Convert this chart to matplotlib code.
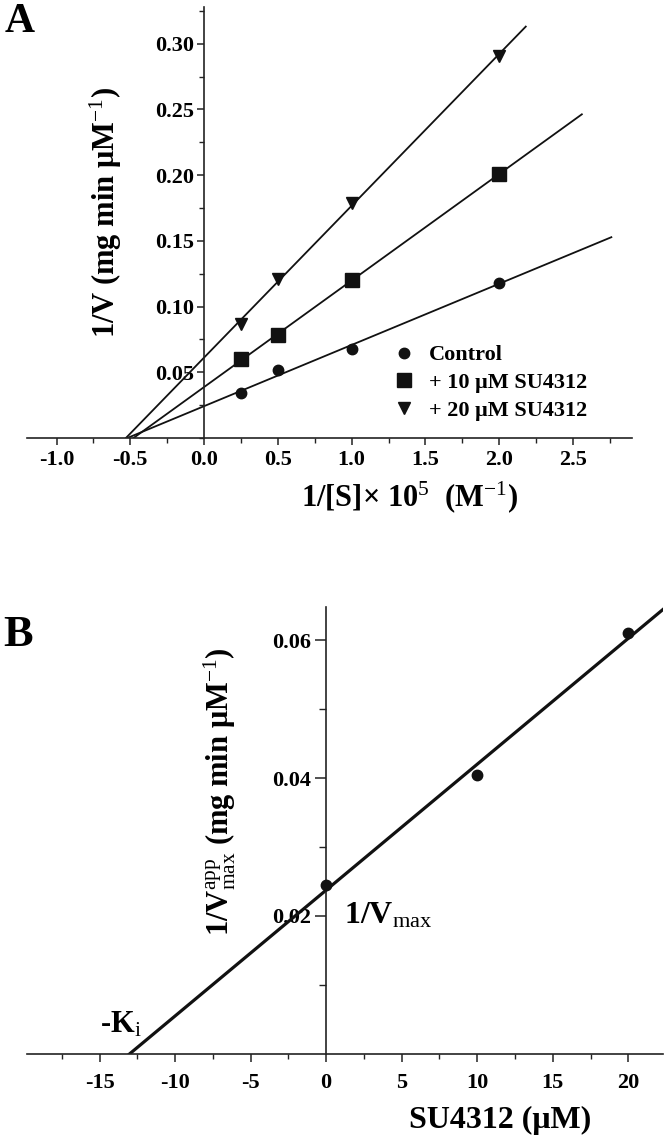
import numpy as np
import matplotlib
matplotlib.use("Agg")
import matplotlib.pyplot as plt
from matplotlib.ticker import MultipleLocator, FixedLocator

plt.rcParams['font.family'] = ['Liberation Serif', 'DejaVu Serif']
plt.rcParams['font.weight'] = 'bold'
plt.rcParams['axes.unicode_minus'] = False
plt.rcParams['mathtext.fontset'] = 'custom'
plt.rcParams['mathtext.rm'] = 'Liberation Serif:weight=normal'
plt.rcParams['mathtext.bf'] = 'Liberation Serif:weight=bold'
plt.rcParams['mathtext.default'] = 'regular'

# Panel A: Lineweaver-Burk data
s_inv = [0.25, 0.5, 1.0, 2.0]
v_control = [0.034, 0.0515, 0.068, 0.118]
v_su10 = [0.060, 0.078, 0.120, 0.201]
v_su20 = [0.087, 0.121, 0.179, 0.291]
series_labels = ['Control', '+ 10 μM SU4312', '+ 20 μM SU4312']
line_ends = [2.76, 2.56, 2.18]

# Panel B: secondary plot
su_conc = [0, 10, 20]
vmax_inv = [0.0245, 0.0405, 0.061]

fig = plt.figure(figsize=(6.70, 11.42), dpi=100)

# ---------------- Panel A ----------------
axA = fig.add_axes([0.0403, 0.6165, 0.9030, 0.3774])
axA.set_xlim(-1.2, 2.9)
axA.set_ylim(0, 0.328)

markers = ['o', 's', 'v']
sizes = [7.5, 9.5, 8.5]
for vals, lab, mk, ms, xend in zip([v_control, v_su10, v_su20], series_labels,
                                   markers, sizes, line_ends):
    k, b = np.polyfit(s_inv, vals, 1)
    xs = np.array([-b / k, xend])
    axA.plot(xs, k * xs + b, color='#111111', lw=1.3, zorder=2)
    axA.plot(s_inv, vals, linestyle='none', marker=mk, ms=ms, color='#111111',
             label=lab, zorder=3)

axA.spines['top'].set_visible(False)
axA.spines['right'].set_visible(False)
axA.spines['left'].set_position(('data', 0))
for sp in ['left', 'bottom']:
    axA.spines[sp].set_linewidth(1.2)
    axA.spines[sp].set_color('#222222')

axA.xaxis.set_major_locator(FixedLocator([-1.0, -0.5, 0.0, 0.5, 1.0, 1.5, 2.0, 2.5]))
axA.xaxis.set_minor_locator(MultipleLocator(0.25))
axA.yaxis.set_major_locator(FixedLocator([0.05, 0.10, 0.15, 0.20, 0.25, 0.30]))
axA.yaxis.set_minor_locator(MultipleLocator(0.025))
axA.xaxis.set_major_formatter(plt.FuncFormatter(lambda v, p: f"{v:.1f}"))
axA.yaxis.set_major_formatter(plt.FuncFormatter(lambda v, p: f"{v:.2f}"))
axA.tick_params(axis='both', which='major', direction='out', length=5, width=1.1,
                labelsize=16, pad=4, color='#222222')
axA.tick_params(axis='both', which='minor', direction='out', length=3.5, width=1.0,
                color='#222222')
axA.tick_params(axis='y', which='major', pad=2)

axA.text(0.1306, 0.524, '1/V (mg min μM$^{\\mathrm{-1}}$)', transform=axA.transAxes,
         rotation=90, ha='center', va='center', fontsize=22)
axA.text(0.633, -0.137, '1/[S]× 10$^{\\mathrm{5}}$  (M$^{\\mathrm{-1}}$)',
         transform=axA.transAxes, ha='center', va='center', fontsize=22)

axA.legend(loc='lower left', bbox_to_anchor=(0.605, 0.04), frameon=False,
           fontsize=16, handlelength=1.0, handletextpad=0.6, labelspacing=0.32,
           borderpad=0, borderaxespad=0)

fig.text(0.030, 0.981, 'A', ha='center', va='center', fontsize=30)

# ---------------- Panel B ----------------
axB = fig.add_axes([0.0403, 0.0771, 0.9493, 0.3914])
axB.set_xlim(-19.8, 22.3)
axB.set_ylim(0, 0.0648)

k, b = np.polyfit(su_conc, vmax_inv, 1)
xs = np.array([-b / k, 22.3])
axB.plot(xs, k * xs + b, color='#111111', lw=2.3, zorder=2)
axB.plot(su_conc, vmax_inv, linestyle='none', marker='o', ms=7.5, color='#111111',
         zorder=3)

axB.spines['top'].set_visible(False)
axB.spines['right'].set_visible(False)
axB.spines['left'].set_position(('data', 0))
for sp in ['left', 'bottom']:
    axB.spines[sp].set_linewidth(1.2)
    axB.spines[sp].set_color('#222222')

axB.xaxis.set_major_locator(FixedLocator([-15, -10, -5, 0, 5, 10, 15, 20]))
axB.xaxis.set_minor_locator(MultipleLocator(2.5))
axB.yaxis.set_major_locator(FixedLocator([0.02, 0.04, 0.06]))
axB.yaxis.set_minor_locator(FixedLocator([0.01, 0.03, 0.05]))
axB.xaxis.set_major_formatter(plt.FuncFormatter(lambda v, p: f"{v:.0f}"))
axB.yaxis.set_major_formatter(plt.FuncFormatter(lambda v, p: f"{v:.2f}"))
axB.tick_params(axis='x', which='major', direction='out', length=6, width=1.1,
                labelsize=16, pad=8, color='#222222')
axB.tick_params(axis='x', which='minor', direction='out', length=3.5, width=1.0,
                color='#222222')
axB.tick_params(axis='y', which='major', direction='out', length=8, width=1.1,
                labelsize=16, pad=3, color='#222222')
axB.tick_params(axis='y', which='minor', direction='out', length=5, width=1.0,
                color='#222222')

axB.text(0.303, 0.586, '1/V$^{\\mathrm{app}}_{\\mathrm{max}}$ (mg min μM$^{\\mathrm{-1}}$)',
         transform=axB.transAxes, rotation=90, ha='center', va='center', fontsize=22)
axB.text(0.744, -0.148, 'SU4312 (μM)', transform=axB.transAxes,
         ha='center', va='center', fontsize=23)
axB.text(-13.6, 0.0042, '-K$_{\\mathrm{i}}$', ha='center', va='center', fontsize=22)
axB.text(1.2, 0.0201, '1/V$_{\\mathrm{max}}$', ha='left', va='center', fontsize=23)

fig.text(0.027, 0.444, 'B', ha='center', va='center', fontsize=32)

fig.savefig('out.png', dpi=100)
